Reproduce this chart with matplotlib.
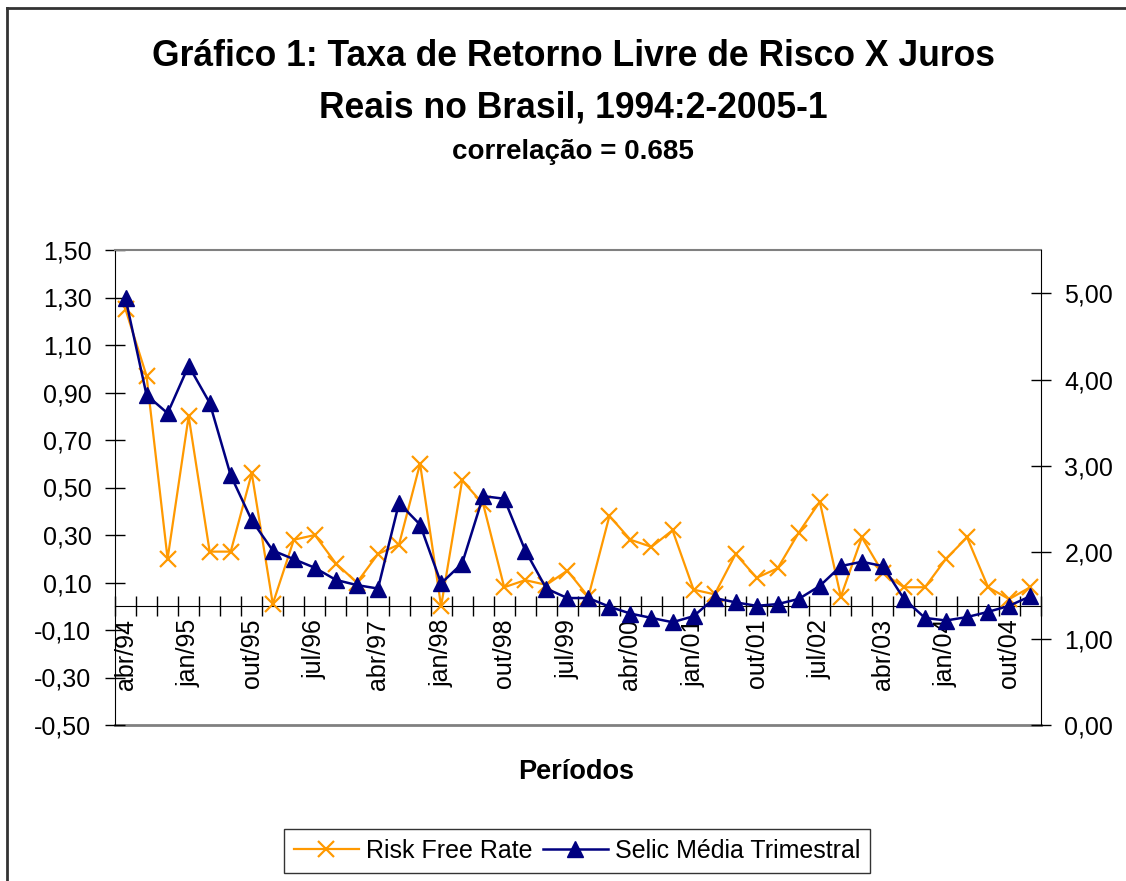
import matplotlib
matplotlib.use("Agg")
import matplotlib.pyplot as plt
from matplotlib.lines import Line2D
from matplotlib.ticker import FuncFormatter

plt.rcParams['font.family'] = ['Liberation Sans', 'DejaVu Sans']

# quarterly series, 1994:2 to 2005:1
risk_free = [1.25, 0.97, 0.20, 0.80, 0.23, 0.23, 0.56, 0.01, 0.28, 0.30, 0.18,
             0.10, 0.22, 0.26, 0.60, 0.00, 0.53, 0.43, 0.08, 0.11, 0.09, 0.15,
             0.04, 0.38, 0.28, 0.25, 0.32, 0.07, 0.05, 0.22, 0.12, 0.16, 0.31,
             0.44, 0.04, 0.29, 0.14, 0.08, 0.08, 0.20, 0.29, 0.08, 0.03, 0.08]
selic = [4.94, 3.82, 3.61, 4.16, 3.73, 2.89, 2.37, 2.02, 1.92, 1.82, 1.68,
         1.62, 1.58, 2.57, 2.32, 1.64, 1.87, 2.65, 2.62, 2.02, 1.58, 1.47,
         1.47, 1.37, 1.29, 1.24, 1.19, 1.26, 1.47, 1.42, 1.38, 1.40, 1.46,
         1.61, 1.84, 1.89, 1.84, 1.46, 1.24, 1.21, 1.25, 1.31, 1.38, 1.49]
tick_labels = ["abr/94", "jan/95", "out/95", "jul/96", "abr/97", "jan/98",
               "out/98", "jul/99", "abr/00", "jan/01", "out/01", "jul/02",
               "abr/03", "jan/04", "out/04"]

ORANGE = "#FF9900"
NAVY = "#000080"

n = len(risk_free)
x = list(range(n))

fig = plt.figure(figsize=(11.26, 8.81), dpi=100)
ax = fig.add_axes([115 / 1126, 1 - 725 / 881, (1040.7 - 115) / 1126, (725 - 250) / 881])
ax2 = ax.twinx()

l1, = ax.plot(x, risk_free, color=ORANGE, lw=1.6, marker="x", ms=12, mew=1.6,
              label="Risk Free Rate", zorder=3)
l2, = ax2.plot(x, selic, color=NAVY, lw=1.8, marker="^", ms=11,
               label="Selic Média Trimestral", zorder=3)

ax.set_xlim(-0.5, n - 0.5)
ax.set_ylim(-0.5, 1.5)
ax2.set_ylim(0, 5.5)

ax.set_yticks([-0.5 + 0.2 * i for i in range(11)])
ax2.set_yticks([0, 1, 2, 3, 4, 5])
fmt = FuncFormatter(lambda v, p: ("%.2f" % v).replace(".", ","))
ax.yaxis.set_major_formatter(fmt)
ax2.yaxis.set_major_formatter(fmt)

# category axis crossing at zero
ax.spines['bottom'].set_position(('data', 0))
ax.spines['top'].set_color("#808080")
ax.spines['top'].set_linewidth(1.5)
for s in ['left', 'top', 'bottom', 'right']:
    ax2.spines[s].set_visible(False)
ax2.spines['right'].set_visible(True)
ax.spines['right'].set_visible(False)
ax.axhline(-0.5, color="#808080", lw=2, clip_on=False, zorder=0)

ax.set_xticks([i + 0.5 for i in range(-1, n)], minor=False)
ax.set_xticklabels([])
ax.set_xticks(list(range(0, n, 3)), minor=True)
ax.set_xticklabels(tick_labels, minor=True, rotation=90, fontsize=18, va="top")
ax.tick_params(axis="x", which="major", direction="inout", length=14, width=1)
ax.tick_params(axis="x", which="minor", length=0, pad=9)
ax.tick_params(axis="y", direction="inout", length=14, width=1, labelsize=18, pad=10)
ax2.tick_params(axis="y", direction="inout", length=14, width=1, labelsize=18, pad=10)

fig.text(0.509, 1 - 57 / 881, "Gráfico 1: Taxa de Retorno Livre de Risco X Juros",
         ha="center", va="center", fontsize=25.6, fontweight="bold")
fig.text(0.509, 1 - 108 / 881, "Reais no Brasil, 1994:2-2005-1",
         ha="center", va="center", fontsize=25.6, fontweight="bold")
fig.text(0.509, 1 - 152 / 881, "correlação = 0.685",
         ha="center", va="center", fontsize=20, fontweight="bold")
fig.text(576 / 1126, 1 - 772 / 881, "Períodos", ha="center", va="center",
         fontsize=19.5, fontweight="bold")

leg = fig.legend(handles=[l1, l2], loc="center", bbox_to_anchor=(577 / 1126, 1 - 851 / 881),
                 ncol=2, fontsize=18, frameon=True, fancybox=False, handlelength=2.6,
                 columnspacing=0.4, handletextpad=0.3, borderpad=0.4)
leg.get_frame().set_edgecolor("black")
leg.get_frame().set_linewidth(1)

# chart border (left and top edges visible)
fig.add_artist(Line2D([7 / 1126, 7 / 1126], [0, 1 - 8 / 881], color="#333333", lw=2,
                      transform=fig.transFigure))
fig.add_artist(Line2D([7 / 1126, 1], [1 - 8 / 881, 1 - 8 / 881], color="#333333", lw=2,
                      transform=fig.transFigure))

fig.savefig("out.png", dpi=100)
